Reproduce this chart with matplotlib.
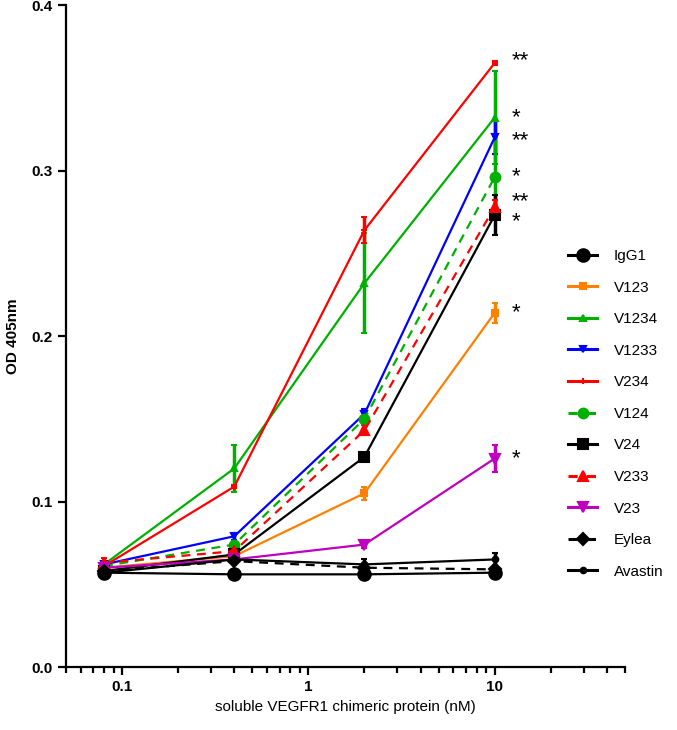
import numpy as np
import matplotlib
matplotlib.use("Agg")
import matplotlib.pyplot as plt
from matplotlib.lines import Line2D
from matplotlib.ticker import FixedLocator, LogLocator, NullFormatter

plt.rcParams['font.family'] = ['Liberation Sans', 'DejaVu Sans']

# concentration (nM)
conc = [0.08, 0.4, 2, 10]

names = ['IgG1', 'V123', 'V1234', 'V1233', 'V234', 'V124', 'V24', 'V233', 'V23', 'Eylea', 'Avastin']
igg1 = [0.057, 0.056, 0.056, 0.057]
v123 = [0.060, 0.067, 0.105, 0.214]
v1234 = [0.062, 0.120, 0.232, 0.332]
v1233 = [0.062, 0.079, 0.153, 0.320]
v234 = [0.061, 0.109, 0.264, 0.365]
v124 = [0.061, 0.074, 0.150, 0.296]
v24 = [0.058, 0.068, 0.127, 0.273]
v233 = [0.063, 0.070, 0.143, 0.278]
v23 = [0.060, 0.065, 0.074, 0.126]
eylea = [0.058, 0.064, 0.060, 0.059]
avastin = [0.057, 0.065, 0.062, 0.065]

# error bars (SD)
e_igg1 = [0.001, 0.001, 0.001, 0.001]
e_v123 = [0.001, 0.001, 0.004, 0.006]
e_v1234 = [0.001, 0.014, 0.030, 0.028]
e_v1233 = [0.001, 0.002, 0.003, 0.010]
e_v234 = [0.001, 0.001, 0.008, 0.001]
e_v124 = [0.001, 0.002, 0.004, 0.025]
e_v24 = [0.001, 0.001, 0.002, 0.012]
e_v233 = [0.003, 0.001, 0.003, 0.004]
e_v23 = [0.001, 0.001, 0.002, 0.008]
e_eylea = [0.001, 0.001, 0.001, 0.001]
e_avastin = [0.001, 0.001, 0.003, 0.004]

# significance marks at 10 nM
star_y = [0.367, 0.333, 0.319, 0.297, 0.282, 0.270, 0.215, 0.127]
star_txt = ['**', '*', '**', '*', '**', '*', '*', '*']

vals = [igg1, v123, v1234, v1233, v234, v124, v24, v233, v23, eylea, avastin]
errs = [e_igg1, e_v123, e_v1234, e_v1233, e_v234, e_v124, e_v24, e_v233, e_v23, e_eylea, e_avastin]

green = '#00B000'
styles = [
    dict(color='black', ls='-', marker='o', ms=9),
    dict(color='#FF8000', ls='-', marker='s', ms=4),
    dict(color=green, ls='-', marker='^', ms=4),
    dict(color='#0000FF', ls='-', marker='v', ms=4),
    dict(color='#FF0000', ls='-', marker='+', ms=4),
    dict(color=green, ls='--', marker='o', ms=7),
    dict(color='black', ls='-', marker='s', ms=7),
    dict(color='#FF0000', ls='--', marker='^', ms=7),
    dict(color='#BF00BF', ls='-', marker='v', ms=7),
    dict(color='black', ls='--', marker='D', ms=6),
    dict(color='black', ls='-', marker='o', ms=4),
]

fig = plt.figure(figsize=(6.77, 7.30), dpi=100)
ax = fig.add_axes([0.0975, 0.0863, 0.8255, 0.9067])

handles = []
for name, y, e, st in zip(names, vals, errs, styles):
    dash = (4, 3) if st['ls'] == '--' else (None, None)
    ax.errorbar(conc, y, yerr=e, color=st['color'], ls=st['ls'], marker=st['marker'],
                ms=st['ms'], mew=1.5, lw=1.6, elinewidth=2.5, capsize=2.5, capthick=2.5,
                dashes=dash)
    h = Line2D([], [], color=st['color'], ls=st['ls'], marker=st['marker'],
               ms=st['ms'], mew=1.5, lw=2.2, label=name)
    if st['ls'] == '--':
        h.set_dashes((3, 3))
    handles.append(h)

for y, t in zip(star_y, star_txt):
    ax.annotate(t, xy=(10, y), xytext=(12, -1), textcoords='offset points',
                ha='left', va='center', fontsize=16)

ax.set_xscale('log')
ax.set_xlim(0.05, 50)
ax.set_ylim(0, 0.4)
ax.xaxis.set_major_locator(FixedLocator([0.1, 1, 10]))
ax.xaxis.set_minor_locator(LogLocator(base=10, subs=np.arange(2, 10)))
ax.xaxis.set_minor_formatter(NullFormatter())
ax.set_xticklabels(['0.1', '1', '10'], fontweight='bold', fontsize=11)
ax.set_yticks([0.0, 0.1, 0.2, 0.3, 0.4])
ax.set_yticklabels(['0.0', '0.1', '0.2', '0.3', '0.4'], fontweight='bold', fontsize=11)

for s in ['top', 'right']:
    ax.spines[s].set_visible(False)
for s in ['left', 'bottom']:
    ax.spines[s].set_linewidth(1.6)
ax.tick_params(which='major', length=6, width=1.6)
ax.tick_params(which='minor', length=4, width=1.6)

ax.set_ylabel('OD 405nm', fontweight='bold', fontsize=11, labelpad=8)
ax.set_xlabel('soluble VEGFR1 chimeric protein (nM)', fontsize=11)

fig.legend(handles=handles, loc='upper left', bbox_to_anchor=(568 / 677, 1 - 249 / 730),
           frameon=False, fontsize=11, handlelength=1.9, handletextpad=1.1,
           labelspacing=1.15, borderpad=0, borderaxespad=0)

fig.savefig('out.png', dpi=100)
